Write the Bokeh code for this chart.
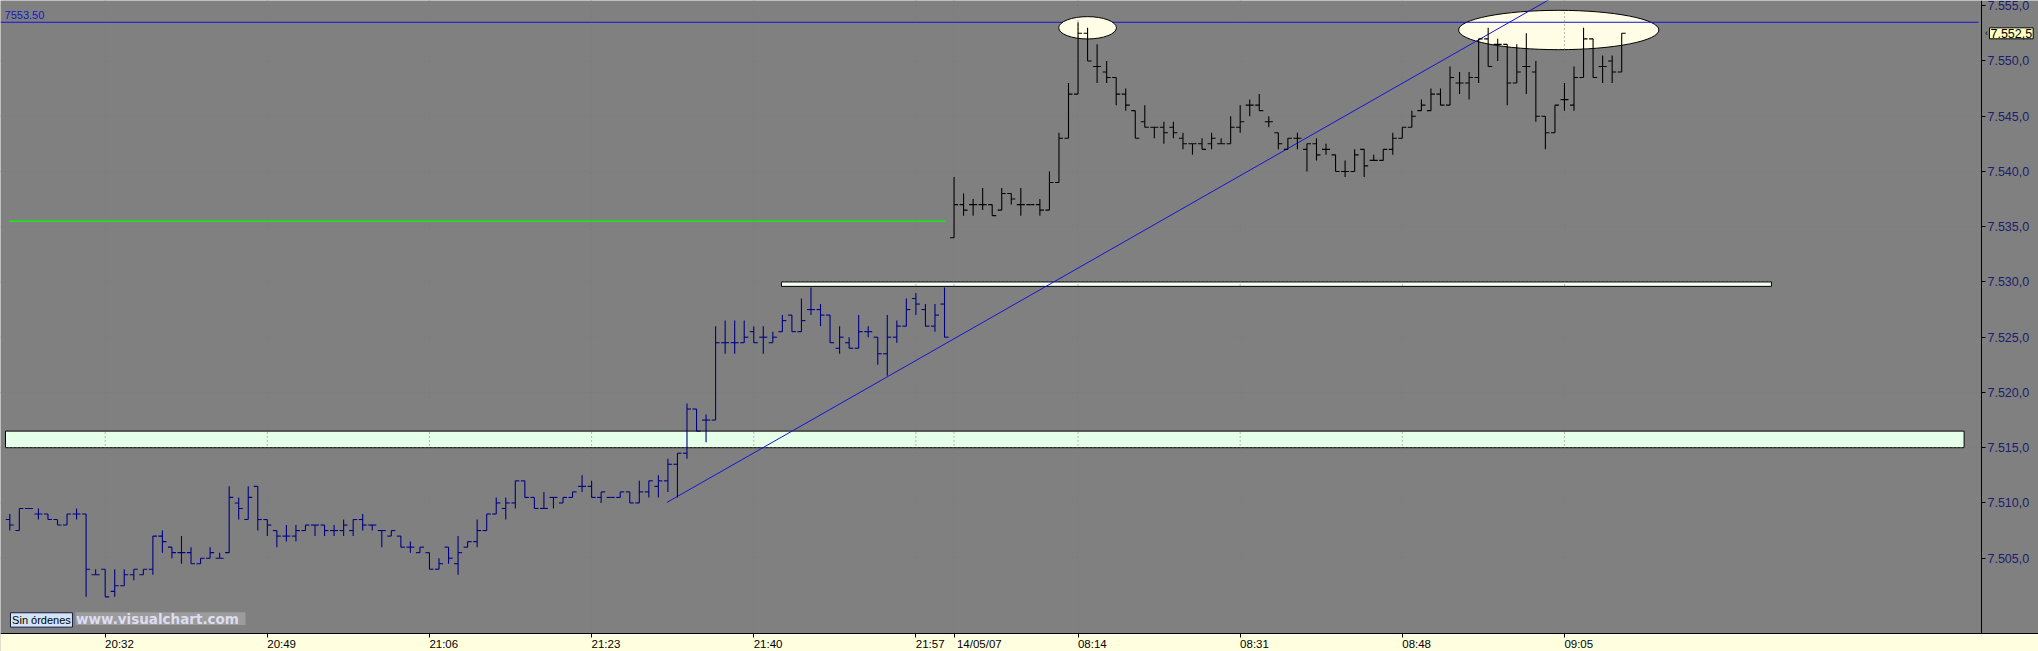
from bokeh.plotting import figure
from bokeh.models import (Range1d, LinearAxis, FixedTicker, CustomJSTickFormatter,
                          Label, ColumnDataSource)
from bokeh.embed import file_html
from bokeh.resources import INLINE

# ---------------- data (1-minute OHLC bars, FDAX) ----------------
opens = [
    7508.5, 7507.5, 7509.5, 7509.0, 7509.0, 7508.5, 7508.0, 7509.0, 7509.0, 7503.5,
    7504.0, 7502.0, 7502.5, 7503.5, 7503.5, 7504.0, 7507.0, 7506.0, 7505.5, 7505.5,
    7504.5, 7505.0, 7505.0, 7505.5, 7510.0, 7508.5, 7511.5, 7508.5, 7507.5, 7507.0,
    7507.0, 7507.5, 7508.0, 7508.0, 7507.5, 7507.5, 7507.5, 7508.5, 7508.0, 7507.5,
    7507.0, 7507.0, 7506.0, 7505.5, 7505.5, 7504.0, 7506.0, 7504.5, 7506.0, 7506.5,
    7507.5, 7509.0, 7509.5, 7510.0, 7512.0, 7510.5, 7509.5, 7510.5, 7510.0, 7510.5,
    7511.5, 7511.5, 7510.5, 7510.5, 7510.5, 7511.0, 7510.0, 7511.0, 7511.5, 7512.0,
    7513.5, 7514.5, 7518.5, 7517.5, 7517.5, 7524.5, 7524.5, 7524.5, 7525.5, 7525.0,
    7524.5, 7525.5, 7527.0, 7525.5, 7527.5, 7527.5, 7527.0, 7524.0, 7524.5, 7524.0,
    7525.5, 7525.0, 7523.5, 7525.0, 7526.0, 7528.5, 7527.5, 7526.0, 7528.0,
    7534.0, 7537.0, 7537.0, 7537.0, 7537.0, 7536.5, 7538.0, 7537.0, 7537.0, 7537.0,
    7536.5, 7539.0, 7543.0, 7547.0, 7552.5, 7549.5, 7549.0, 7548.5, 7547.0, 7545.5,
    7544.5, 7544.0, 7544.0, 7544.0, 7543.0, 7542.5, 7542.5, 7542.5, 7542.5, 7542.5,
    7544.0, 7546.0, 7546.0, 7544.5, 7543.5, 7542.0, 7543.0, 7542.0, 7542.5, 7542.0,
    7541.5, 7540.0, 7540.0, 7542.0, 7541.0, 7541.0, 7542.0, 7543.0, 7544.0, 7545.5,
    7545.5, 7547.0, 7546.0, 7548.0, 7548.0, 7548.5, 7552.0, 7551.5, 7551.5, 7548.0,
    7549.5, 7549.0, 7545.0, 7543.5, 7546.5, 7546.0, 7548.5, 7552.0, 7549.5, 7550.0,
    7549.0,
]
highs = [
    7509.0, 7509.5, 7509.5, 7509.5, 7509.0, 7508.5, 7509.0, 7509.5, 7509.0, 7504.0,
    7504.0, 7504.0, 7504.0, 7504.0, 7504.0, 7507.0, 7507.5, 7506.0, 7507.0, 7506.0,
    7505.0, 7506.0, 7505.5, 7511.5, 7510.5, 7511.5, 7511.5, 7508.5, 7507.5, 7508.0,
    7508.0, 7508.0, 7508.0, 7508.0, 7508.0, 7508.5, 7508.5, 7509.0, 7508.0, 7507.5,
    7507.5, 7507.0, 7506.5, 7506.0, 7505.5, 7505.0, 7506.0, 7507.0, 7506.5, 7508.5,
    7509.0, 7510.5, 7510.5, 7512.0, 7512.0, 7510.5, 7511.0, 7510.5, 7510.5, 7511.0,
    7512.5, 7512.0, 7511.0, 7510.5, 7511.0, 7511.0, 7512.0, 7512.0, 7512.5, 7514.0,
    7514.5, 7519.0, 7518.5, 7518.0, 7526.0, 7526.5, 7526.5, 7526.5, 7526.0, 7526.0,
    7525.5, 7527.0, 7527.0, 7528.5, 7529.5, 7528.0, 7527.0, 7526.0, 7525.0, 7527.0,
    7526.0, 7525.0, 7527.0, 7526.5, 7528.5, 7529.0, 7528.0, 7528.0, 7529.5,
    7539.5, 7538.0, 7537.5, 7538.5, 7537.0, 7538.5, 7538.0, 7538.5, 7537.0, 7537.5,
    7540.0, 7543.5, 7548.0, 7553.5, 7553.0, 7551.5, 7550.0, 7548.5, 7547.5, 7545.5,
    7546.0, 7544.0, 7544.5, 7544.5, 7543.5, 7542.5, 7543.0, 7543.5, 7543.0, 7545.0,
    7546.0, 7546.5, 7547.0, 7545.0, 7543.5, 7543.0, 7543.5, 7542.5, 7543.0, 7542.5,
    7541.5, 7541.0, 7542.0, 7542.0, 7541.5, 7542.0, 7543.5, 7544.0, 7545.5, 7546.5,
    7547.5, 7547.5, 7549.5, 7549.0, 7549.0, 7552.0, 7553.0, 7552.0, 7551.5, 7551.5,
    7552.5, 7550.0, 7545.0, 7546.0, 7548.0, 7549.5, 7553.0, 7552.0, 7550.5, 7550.5,
    7552.5,
]
lows = [
    7507.5, 7507.5, 7509.5, 7508.5, 7508.5, 7508.0, 7508.0, 7508.5, 7501.5, 7503.5,
    7501.5, 7501.5, 7502.5, 7503.0, 7503.5, 7503.5, 7505.5, 7505.0, 7504.5, 7504.5,
    7504.5, 7505.0, 7505.0, 7505.5, 7508.5, 7508.5, 7507.5, 7507.0, 7506.0, 7506.5,
    7506.5, 7507.5, 7507.0, 7507.0, 7507.0, 7507.0, 7507.0, 7507.5, 7507.5, 7506.0,
    7507.0, 7506.0, 7505.5, 7505.5, 7504.0, 7504.0, 7504.5, 7503.5, 7506.0, 7506.0,
    7507.5, 7509.0, 7508.5, 7509.5, 7510.5, 7509.5, 7509.5, 7509.5, 7510.0, 7510.5,
    7511.0, 7510.5, 7510.0, 7510.5, 7510.5, 7510.0, 7510.0, 7510.5, 7510.5, 7511.0,
    7510.5, 7514.0, 7516.5, 7515.5, 7517.5, 7523.5, 7523.5, 7524.5, 7524.5, 7523.5,
    7524.5, 7525.5, 7525.5, 7525.5, 7527.0, 7526.0, 7524.5, 7523.5, 7524.0, 7524.0,
    7525.0, 7522.5, 7521.5, 7524.5, 7526.0, 7527.0, 7526.0, 7525.5, 7525.0,
    7534.0, 7536.0, 7536.0, 7536.5, 7536.0, 7536.5, 7537.0, 7536.0, 7537.0, 7536.0,
    7536.5, 7539.0, 7543.0, 7547.0, 7550.0, 7548.0, 7548.0, 7546.0, 7545.5, 7543.0,
    7544.0, 7543.0, 7542.5, 7543.0, 7542.0, 7541.5, 7542.0, 7542.0, 7542.5, 7542.5,
    7543.5, 7545.0, 7545.5, 7544.0, 7542.0, 7542.0, 7542.0, 7540.0, 7541.0, 7541.5,
    7540.0, 7539.5, 7540.0, 7539.5, 7541.0, 7541.0, 7541.5, 7543.0, 7544.0, 7545.5,
    7545.5, 7546.0, 7546.0, 7547.0, 7546.5, 7548.0, 7549.5, 7550.0, 7546.0, 7548.0,
    7547.0, 7544.5, 7542.0, 7543.5, 7545.5, 7545.5, 7548.5, 7548.5, 7548.0, 7548.0,
    7549.0,
]
closes = [
    7508.0, 7509.5, 7509.5, 7509.0, 7508.5, 7508.0, 7509.0, 7509.0, 7504.0, 7503.5,
    7501.5, 7502.5, 7503.5, 7504.0, 7504.0, 7507.0, 7506.5, 7505.5, 7505.5, 7504.5,
    7505.0, 7505.5, 7505.0, 7510.5, 7509.5, 7510.5, 7508.5, 7508.0, 7507.0, 7507.0,
    7507.5, 7508.0, 7508.0, 7507.5, 7507.5, 7508.0, 7508.5, 7508.0, 7508.0, 7507.5,
    7507.5, 7506.0, 7506.0, 7506.0, 7504.0, 7504.5, 7505.0, 7505.5, 7506.5, 7507.5,
    7509.0, 7510.0, 7510.0, 7512.0, 7510.5, 7509.5, 7509.5, 7510.5, 7510.5, 7511.0,
    7511.5, 7510.5, 7511.0, 7510.5, 7511.0, 7510.0, 7511.0, 7512.0, 7512.0, 7513.5,
    7514.5, 7518.5, 7516.5, 7517.5, 7524.5, 7524.5, 7524.5, 7525.0, 7524.5, 7525.0,
    7525.0, 7526.5, 7525.5, 7526.5, 7527.5, 7527.0, 7524.5, 7525.0, 7524.0, 7525.5,
    7525.5, 7523.5, 7525.0, 7526.0, 7527.5, 7528.0, 7526.0, 7527.0, 7525.0,
    7537.0, 7536.5, 7537.0, 7537.0, 7536.0, 7538.0, 7537.5, 7537.0, 7537.0, 7536.5,
    7539.0, 7543.0, 7547.0, 7552.5, 7550.0, 7549.5, 7548.5, 7547.0, 7546.0, 7543.0,
    7544.0, 7544.0, 7543.5, 7543.5, 7542.5, 7542.5, 7542.0, 7543.0, 7542.5, 7544.0,
    7544.5, 7546.0, 7545.5, 7544.5, 7542.5, 7543.0, 7543.0, 7542.5, 7541.5, 7542.0,
    7540.0, 7540.0, 7541.5, 7540.5, 7541.0, 7542.0, 7543.0, 7544.0, 7545.0, 7546.0,
    7547.0, 7546.0, 7548.5, 7548.0, 7548.5, 7552.0, 7549.5, 7551.5, 7548.0, 7549.0,
    7549.5, 7545.0, 7543.5, 7546.0, 7546.5, 7548.5, 7552.0, 7548.5, 7549.5, 7549.0,
    7552.5,
]
evening_bars = 99          # 20:22 .. 22:00 (13/05/07)
morning_bars = 71          # 08:01 .. 09:11 (14/05/07)

tick_pos = [10, 27, 44, 61, 78, 95, 99, 112, 129, 146, 163]
tick_labels = ["20:32", "20:49", "21:06", "21:23", "21:40", "21:57", "14/05/07",
               "08:14", "08:31", "08:48", "09:05"]
y_ticks = [7505, 7510, 7515, 7520, 7525, 7530, 7535, 7540, 7545, 7550, 7555]

# drawn objects (chart annotations)
resistance_level = 7553.5
green_level = 7535.5
green_span = [-0.1, 98.1]
trend_x = [68.9, 162.0]
trend_y = [7510.05, 7555.85]
light_box_x = [-0.45, 204.9]
light_box_y = [7515.0, 7516.5]
white_box_x = [80.9, 184.7]
white_box_y = [7529.6, 7530.0]
ell_x = [113.0, 162.4]
ell_y = [7553.0, 7552.8]
ell_w = [6.05, 21.0]
ell_h = [2.02, 3.56]
last_price = closes[-1]

# ---------------- figure ----------------
# frame covers the whole canvas; axes are fixed inside it
X0, X1 = -0.975, 212.70      # canvas x range (bar index units)
XA = 206.72                  # price axis position
Y0, Y1 = 7496.556, 7555.47   # canvas y range (price units)
YA = 7498.19                 # time axis position
GRAY = "#808080"
NAVY = "#000080"
BLUE = "#1414d2"
AXIS_TEXT = "#1c1c6c"

p = figure(width=2038, height=651, output_backend="svg", toolbar_location=None,
           x_range=Range1d(X0, X1), y_range=Range1d(Y0, Y1),
           x_axis_location=None, y_axis_location=None,
           min_border_left=0, min_border_top=0, min_border_right=0,
           min_border_bottom=0)
p.background_fill_color = GRAY
p.border_fill_color = GRAY
p.outline_line_color = None
p.grid.visible = False

# yellow strip under the time axis
p.quad(left=[X0 - 1], right=[X1 + 1], bottom=[Y0 - 1], top=[YA],
       fill_color="#ffffe0", line_color=None)

# x axis: minor ticks at the time positions, labels (major) shifted right
label_pos = [t + (2.65 if "/" in lab else 1.5) for t, lab in zip(tick_pos, tick_labels)]
xfmt = CustomJSTickFormatter(args=dict(pos=label_pos, labels=tick_labels), code="""
let best = 0, bd = 1e9;
for (let k = 0; k < pos.length; k++) {
  const d = Math.abs(pos[k] - tick);
  if (d < bd) { bd = d; best = k; }
}
return labels[best];
""")
xaxis = LinearAxis(ticker=FixedTicker(ticks=label_pos, minor_ticks=tick_pos),
                   formatter=xfmt, fixed_location=YA)
xaxis.major_tick_out = 0
xaxis.major_tick_in = 0
xaxis.minor_tick_out = 4
xaxis.minor_tick_in = 0
xaxis.minor_tick_line_color = "black"
xaxis.axis_line_color = "black"
xaxis.major_label_text_font = "Liberation Sans"
xaxis.major_label_text_font_size = "11.5px"
xaxis.major_label_text_color = "black"
xaxis.major_label_standoff = 1
p.add_layout(xaxis, "below")

yfmt = CustomJSTickFormatter(code="""
const s = tick.toFixed(1).replace('.', ',');
return s.substring(0, s.length - 5) + '.' + s.substring(s.length - 5);
""")
yaxis = LinearAxis(ticker=FixedTicker(ticks=y_ticks), formatter=yfmt, fixed_location=XA)
yaxis.bounds = (YA, Y1)
yaxis.major_tick_out = 4
yaxis.major_tick_in = 0
yaxis.minor_tick_out = 0
yaxis.minor_tick_in = 0
yaxis.major_tick_line_color = "black"
yaxis.axis_line_color = "black"
yaxis.major_label_text_font = "Liberation Sans"
yaxis.major_label_text_font_size = "12.5px"
yaxis.major_label_text_color = AXIS_TEXT
yaxis.major_label_standoff = 2
p.add_layout(yaxis, "right")

# boxes
p.quad(left=[light_box_x[0]], right=[light_box_x[1]], bottom=[light_box_y[0]],
       top=[light_box_y[1]], fill_color="#e6ffe8", line_color="black", line_width=1)
p.quad(left=[white_box_x[0]], right=[white_box_x[1]], bottom=[white_box_y[0]],
       top=[white_box_y[1]], fill_color="#f6fff6", line_color="black", line_width=1)

# ellipse around second top (drawn under the level line)
p.ellipse(x=[ell_x[1]], y=[ell_y[1]], width=[ell_w[1]], height=[ell_h[1]],
          fill_color="#fffde6", line_color="black", line_width=1)
# resistance level
p.segment(x0=[X0], x1=[XA - 0.3], y0=[resistance_level], y1=[resistance_level],
          line_color=BLUE, line_width=1)
p.ellipse(x=[ell_x[0]], y=[ell_y[0]], width=[ell_w[0]], height=[ell_h[0]],
          fill_color="#fffde6", line_color="black", line_width=1)

# dotted grid
p.segment(x0=tick_pos, x1=tick_pos, y0=[YA] * len(tick_pos), y1=[Y1] * len(tick_pos),
          line_color="#7a7a7a", line_dash="1 3", line_width=1)
p.segment(x0=[X0] * len(y_ticks), x1=[XA] * len(y_ticks), y0=y_ticks, y1=y_ticks,
          line_color="#7a7a7a", line_dash="1 3", line_width=1)

# green level and trend line
p.segment(x0=[green_span[0]], x1=[green_span[1]], y0=[green_level], y1=[green_level],
          line_color="#00ff00", line_width=1.4)
p.line(x=trend_x, y=trend_y, line_color=BLUE, line_width=1)

# OHLC bars
n = len(opens)
idx = list(range(n))
colors = [NAVY] * evening_bars + ["black"] * morning_bars
src = ColumnDataSource(dict(
    x=idx, xl=[i - 0.42 for i in idx], xr=[i + 0.42 for i in idx],
    o=opens, h=highs, l=lows, c=closes, col=colors))
p.segment(x0="x", x1="x", y0="l", y1="h", line_color="col", line_width=1.1, source=src)
p.segment(x0="xl", x1="x", y0="o", y1="o", line_color="col", line_width=1.1, source=src)
p.segment(x0="x", x1="xr", y0="c", y1="c", line_color="col", line_width=1.1, source=src)

# texts
p.add_layout(Label(x=-0.55, y=resistance_level, text="%.2f" % resistance_level,
                   text_font="Liberation Sans", text_font_size="11px", text_color=BLUE,
                   text_baseline="bottom", y_offset=3))

# "Sin órdenes" box and watermark
p.quad(left=[0.07], right=[6.57], bottom=[7498.76], top=[7500.06],
       fill_color="#d2e4f6", line_color="#1a1a40", line_width=1)
p.add_layout(Label(x=3.32, y=7499.41, text="Sin órdenes", text_align="center",
                   text_baseline="middle", text_font="Liberation Sans",
                   text_font_size="11px", text_color="black"))
p.quad(left=[6.89], right=[24.71], bottom=[7498.95], top=[7500.11],
       fill_color="#9c9c9c", line_color=None)
p.add_layout(Label(x=6.95, y=7499.53, text="www.visualchart.com", text_align="left",
                   text_baseline="middle", text_font="DejaVu Sans",
                   text_font_size="13.5px", text_font_style="bold",
                   text_color="#dcdcf2"))

# last price tag on the price axis
tag_text = ("%.1f" % last_price).replace(".", ",")
tag_text = tag_text[:1] + "." + tag_text[1:]
tag_kwargs = dict(x=207.56, y=last_price, text=tag_text,
                  text_font="Liberation Sans", text_font_size="12.5px",
                  text_color="black", text_baseline="middle", text_align="left",
                  background_fill_color="#ffffc0", border_line_color="black")
if "padding" in Label.properties():
    tag_kwargs["padding"] = 1
p.add_layout(Label(**tag_kwargs))
p.add_layout(Label(x=207.08, y=last_price, text="‹", text_font="Liberation Sans",
                   text_font_size="9px", text_color="black", text_baseline="middle",
                   text_align="left"))

open("out.html", "w").write(file_html(p, INLINE))
